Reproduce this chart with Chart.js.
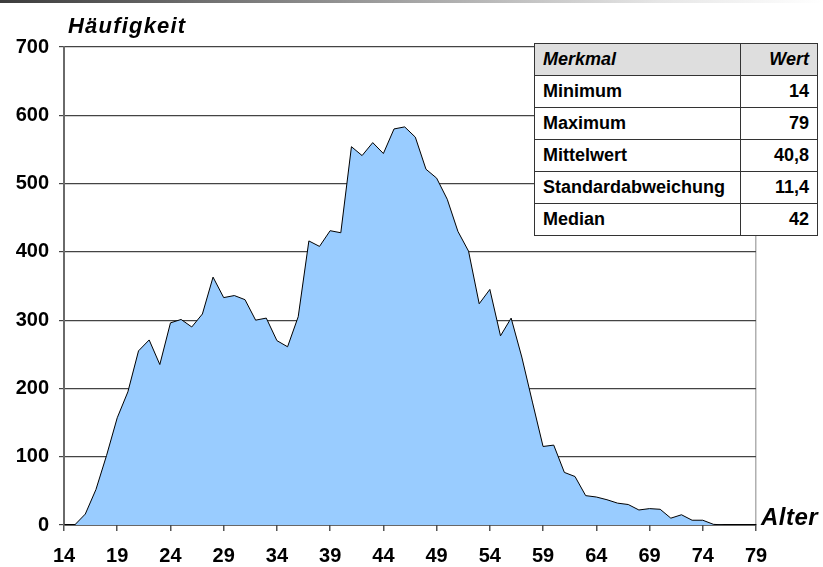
<!DOCTYPE html>
<html>
<head>
<meta charset="utf-8">
<script src="https://cdn.jsdelivr.net/npm/chart.js@4.4.1/dist/chart.umd.min.js"></script>
<style>
  body { margin:0; background:#fff; }
  #wrap { position:relative; width:823px; height:567px; }
  #topbar { position:absolute; left:0; top:0; width:823px; height:3px;
            background:linear-gradient(to right, #3c3c3c, #9a9a9a 45%, #e6e6e6 80%, #fff); }
  #stats { position:absolute; left:534px; top:43px; width:284px; border-collapse:collapse;
           background:#fff; font-family:"Liberation Sans", Arial, sans-serif; font-weight:bold;
           font-size:18px; color:#000; }
  #stats td, #stats th { border:1.5px solid #333; height:31px; padding:0 8px; }
  #stats th { background:#dedede; font-style:italic; text-align:left; font-weight:bold; }
  #stats .v { text-align:right; width:60px; }
</style>
</head>
<body>
<div id="wrap">
  <canvas id="chart" width="823" height="567"></canvas>
  <div id="topbar"></div>
  <table id="stats"></table>
</div>
<script>
// Alter (Jahre) und Häufigkeit
var ages = [14,15,16,17,18,19,20,21,22,23,24,25,26,27,28,29,30,31,32,33,34,35,36,37,38,39,40,41,42,43,44,45,46,
            47,48,49,50,51,52,53,54,55,56,57,58,59,60,61,62,63,64,65,66,67,68,69,70,71,72,73,74,75,76,77,78,79];
var counts = [0,0,16,52,102,157,195,255,271,235,296,301,290,309,363,333,336,330,300,303,270,261,305,416,408,431,428,
              554,541,560,544,580,583,568,521,508,477,430,401,324,345,277,303,246,180,115,117,77,71,43,41,37,32,30,
              22,24,23,10,15,7,7,1,0,0,0,0];
var yTicks = [0,100,200,300,400,500,600,700];

var statNames = ["Minimum","Maximum","Mittelwert","Standardabweichung","Median"];
var statValues = ["14","79","40,8","11,4","42"];

// Tabelle
var html = '<tr><th>Merkmal</th><th class="v" style="text-align:right">Wert</th></tr>';
for (var i = 0; i < statNames.length; i++) {
  html += '<tr><td>' + statNames[i] + '</td><td class="v">' + statValues[i] + '</td></tr>';
}
document.getElementById("stats").innerHTML = html;

var fontFam = '"Liberation Sans", Arial, sans-serif';

var axisTitles = {
  id: 'axisTitles',
  afterDraw: function(chart) {
    var ctx = chart.ctx;
    ctx.save();
    ctx.fillStyle = '#000';
    ctx.textBaseline = 'alphabetic';
    ctx.textAlign = 'left';
    ctx.font = 'italic bold 22px ' + fontFam;
    ctx.letterSpacing = '1.2px';
    ctx.fillText('Häufigkeit', 68, 33);
    ctx.font = 'italic bold 24px ' + fontFam;
    ctx.letterSpacing = '0.5px';
    ctx.fillText('Alter', 761, 525);
    ctx.restore();
  }
};

new Chart("chart", {
  type: "line",
  data: {
    labels: ages.map(String),
    datasets: [{
      data: counts,
      fill: 'origin',
      backgroundColor: '#99ccff',
      borderColor: '#000',
      borderWidth: 1,
      pointRadius: 0,
      tension: 0
    }]
  },
  options: {
    responsive: false,
    animation: false,
    layout: { padding: { left: 0, right: 67, top: 47, bottom: 0 } },
    plugins: { legend: { display: false }, tooltip: { enabled: false } },
    scales: {
      x: {
        type: 'category',
        offset: false,
        afterFit: function(s) { s.height = 42; },
        border: { color: '#000', width: 1.5 },
        grid: {
          drawOnChartArea: true,
          color: function(c) { return c.index === ages.length - 1 ? '#b0b0b0' : 'rgba(0,0,0,0)'; },
          tickColor: function(c) { return c.index % 5 === 0 ? '#555' : 'rgba(0,0,0,0)'; },
          tickLength: 6,
          lineWidth: 1.5
        },
        ticks: {
          autoSkip: false,
          maxRotation: 0,
          padding: 13,
          color: '#000',
          font: { family: fontFam, size: 20, weight: 'bold' },
          callback: function(v, i) { return i % 5 === 0 ? ages[i] : ''; }
        }
      },
      y: {
        min: 0,
        max: 700,
        afterFit: function(s) { s.width = 64; },
        afterBuildTicks: function(s) { s.ticks = yTicks.map(function(v) { return { value: v }; }); },
        border: { color: '#6a6a6a', width: 2 },
        grid: { color: '#444', lineWidth: 1.2, tickLength: 5, tickColor: '#444' },
        ticks: {
          padding: 10,
          color: '#000',
          font: { family: fontFam, size: 20, weight: 'bold' }
        }
      }
    }
  },
  plugins: [axisTitles]
});
</script>
</body>
</html>
